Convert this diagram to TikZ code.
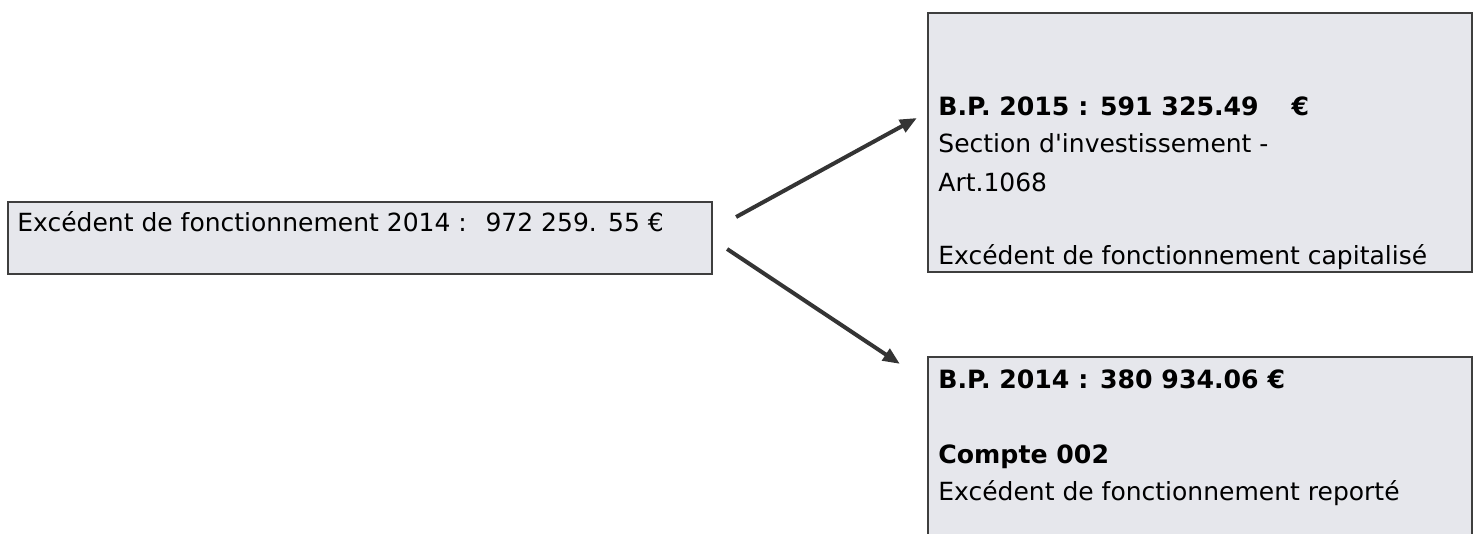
\documentclass[tikz,border=0pt]{standalone}
\usepackage{fontspec}
\setmainfont{DejaVu Sans}[Ligatures=ResetAll]
\usetikzlibrary{arrows.meta,calc}
\definecolor{boxfill}{RGB}{230,231,236}
\definecolor{boxline}{RGB}{62,62,62}
\definecolor{arrowcol}{RGB}{52,52,52}
\newcommand{\straightapos}{\XeTeXglyph\XeTeXglyphindex "quotesingle"\relax}
\tikzset{
  panel/.style={draw=boxline, line width=1.1pt, fill=boxfill, rectangle, inner sep=0pt},
  txt/.style={anchor=base west, inner sep=0pt, font=\fontsize{12.5}{15}\selectfont, text=black},
  btxt/.style={txt, font=\fontsize{12.6}{15}\selectfont\bfseries},
  arr/.style={draw=arrowcol, line width=2pt, -{Triangle[length=8.5pt,width=6.8pt]}}
}
\begin{document}
\begin{tikzpicture}[x=0.5pt,y=-0.5pt]
\useasboundingbox (0,0) rectangle (1478,534);
\clip (0,0) rectangle (1478,534);
% boxes
\node[panel, minimum width=352pt, minimum height=36pt] (L) at (360,238) {};
\node[panel, minimum width=272pt, minimum height=129.5pt] (T) at (1200,142.5) {};
\node[panel, minimum width=272pt, minimum height=94pt] (B) at (1200,451) {};
% texts
\node[txt] (l1) at (17,232) {Excédent de fonctionnement 2014 :\hspace{0.75em}972 259.\hspace{0.45em}55 €};
\node[btxt] (t1) at (938,116) {B.P. 2015 : 591 325.49\hspace{1.3em}€};
\node[txt] (t2) at (938,153) {Section d\straightapos investissement -};
\node[txt] (t3) at (938,192) {Art.1068};
\node[txt] (t4) at (938,265) {Excédent de fonctionnement capitalisé};
\node[btxt] (b1) at (938,388) {B.P. 2014 : 380 934.06 €};
\node[btxt] (b2) at (938,463) {Compte 002};
\node[txt] (b3) at (938,500) {Excédent de fonctionnement reporté};
% connectors
\draw[arr] ($(L.east)+(23,-21)$) -- ($(T.west)+(-10,-24.5)$);
\draw[arr] ($(L.east)+(14,11)$) -- ($(B.north west)+(-27,8)$);
\end{tikzpicture}
\end{document}
